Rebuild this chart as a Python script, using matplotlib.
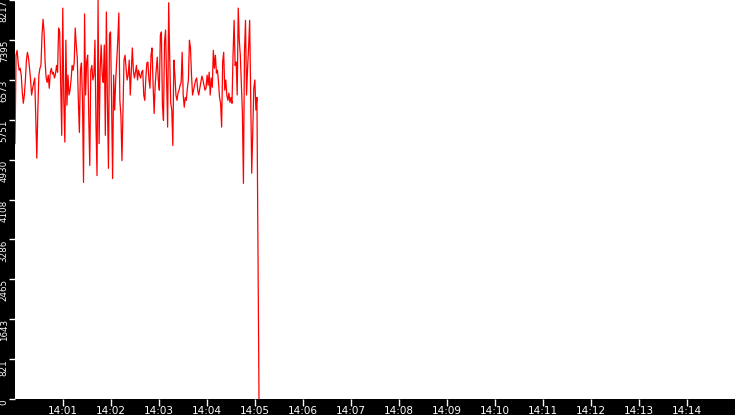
import matplotlib
matplotlib.use('Agg')
import matplotlib.pyplot as plt
import matplotlib.dates as mdates
import pandas as pd

# readings, roughly one per 1.3 s, from 14:00:00 until the feed drops out
values = [
    5260, 7080, 7180, 6940, 6770, 6810, 6670, 6320, 6090, 6260, 6570, 6980, 7140, 7020, 6810, 6570,
    6260, 6400, 6500, 6610, 5740, 4960, 5950, 6670, 6810, 6870, 7490, 7820, 7560, 6940, 6610, 6520,
    6670, 6400, 6730, 6810, 6690, 6730, 6610, 6690, 6870, 6730, 7640, 7560, 6440, 5430, 8050, 6150,
    5290, 7390, 6050, 6670, 6260, 6360, 6570, 6870, 6770, 6920, 7640, 7290, 7020,
    6150, 5490, 6770, 6920, 6150, 4460, 7930, 6260, 6940, 7080, 5840, 4810, 6770, 6870, 6570, 6670,
    7390, 5640, 4600, 8217, 5260, 6770, 7290, 6670, 6520, 7290, 5430, 7970, 6150, 4750, 7510, 7560,
    6150, 4540, 6670, 5950, 6570, 6980, 7390, 7950, 6150, 5840, 4910, 5950, 6980, 7080, 6810, 6570,
    6670, 6980, 6260, 6770, 7230, 6770, 6610, 6730, 6870, 6570, 6770, 6670, 6610, 6730,
    6770, 6260, 6150, 6610, 6920, 6940, 6570, 6400, 7080, 7230, 6460, 5880, 6460, 6770, 7040, 6570,
    6360, 7490, 7560, 6050, 5740, 7350, 7600, 6610, 5600, 8160, 7020, 6090, 5950, 5220, 6980, 6670,
    6260, 6150, 6300, 6360, 6460, 6520, 7140, 6260, 6010, 6210, 6150, 6400, 6570, 7390, 7230, 6670,
    6260, 6360, 6460, 6570, 6610, 6360, 6260, 6400, 6520, 6650, 6570, 6460, 6360, 6400,
    6670, 6460, 6730, 6260, 6610, 6420, 7180, 6810, 7080, 6710, 6770, 6520, 6210, 6090, 5600, 6940,
    7140, 6360, 6570, 6260, 6150, 6300, 6110, 6210, 6090, 7080, 7800, 6870, 6940, 6260, 8050, 7390,
    7080, 6460, 5900, 4440, 7140, 7800, 6260, 6810, 7250, 7800, 6210, 4650, 5530, 6400, 6570, 5950,
    6210, 3100, 0,
]
times = pd.date_range('2024-01-01 14:00:00', '2024-01-01 14:05:05', periods=len(values))

y_ticks = [0, 821, 1643, 2465, 3286, 4108, 4930, 5751, 6573, 7395, 8217]
x_start = pd.Timestamp('2024-01-01 14:00:00')
x_end = pd.Timestamp('2024-01-01 14:15:00')

fig = plt.figure(figsize=(7.35, 4.15), dpi=100, facecolor='black')
ax = fig.add_axes([15 / 735, 16 / 415, 720 / 735, 399 / 415])
ax.set_facecolor('white')

ax.plot(times, values, color='#ff0000', linewidth=0.9)

ax.set_xlim(x_start, x_end)
ax.set_ylim(0, 8217)
ax.set_yticks(y_ticks)
# rotated labels hang down from their tick, as in the original
ax.set_yticklabels([str(t) for t in y_ticks], rotation=90, va='top')
ax.xaxis.set_major_locator(mdates.MinuteLocator(byminute=range(1, 15)))
ax.xaxis.set_major_formatter(mdates.DateFormatter('%H:%M'))

for s in ax.spines.values():
    s.set_visible(False)
ax.tick_params(axis='both', colors='white', width=1)
ax.tick_params(axis='y', labelsize=6.3, length=4, pad=0.5)
ax.tick_params(axis='x', length=5, labelsize=7.5, pad=0)

fig.savefig('out.png', dpi=100, facecolor='black')
